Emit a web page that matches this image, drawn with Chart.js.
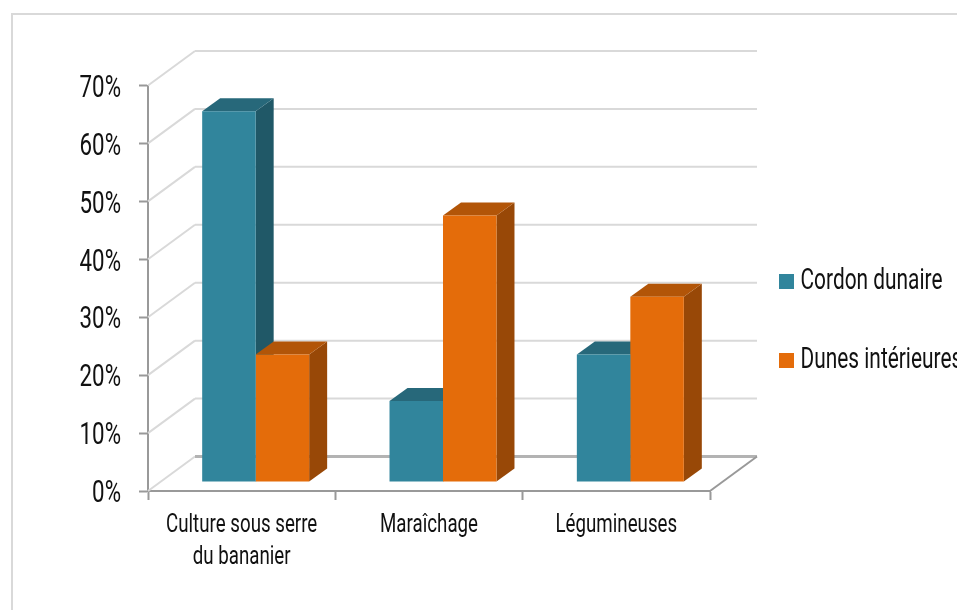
<!DOCTYPE html>
<html lang="fr">
<head>
<meta charset="utf-8">
<title>Cultures</title>
<script src="https://cdn.jsdelivr.net/npm/chart.js@4/dist/chart.umd.min.js"></script>
<style>
  html, body { margin: 0; padding: 0; background: #fff; overflow: hidden; }
  #wrap { width: 957px; height: 610px; }
</style>
</head>
<body>
<div id="wrap"><canvas id="chart"></canvas></div>
<script>
// --- Data ---
const categories = [['Culture sous serre', 'du bananier'], 'Maraîchage', 'Légumineuses'];
const cordonDunaire = [64, 14, 22];
const dunesInterieures = [22, 46, 32];
const seriesNames = ['Cordon dunaire', 'Dunes intérieures'];

// --- Style ---
const FONT = 'Roboto, sans-serif';
const TEXT_SQUEEZE = 0.72;          // the original font is a condensed one, none is installed
const LEGEND_TEXT_NUDGE = -8;       // box-to-text gap is tighter than the default half font size
const faces = [
    { front: '#31859c', side: '#205867', top: '#27687a' },
    { front: '#e46c0a', side: '#984807', top: '#b25508' }
];
const wall = { dx: 47, dy: -34.5 };   // depth of the fake 3D box
const barDepth = { dx: 18, dy: -13 };
const barShift = { x: 14, y: -9 };    // bars stand in the middle of the floor

function line(ctx, x1, y1, x2, y2, color, width) {
    ctx.strokeStyle = color;
    ctx.lineWidth = width;
    ctx.beginPath();
    ctx.moveTo(x1, y1);
    ctx.lineTo(x2, y2);
    ctx.stroke();
}

function poly(ctx, pts, color) {
    ctx.fillStyle = color;
    ctx.beginPath();
    pts.forEach((p, i) => (i ? ctx.lineTo(p[0], p[1]) : ctx.moveTo(p[0], p[1])));
    ctx.closePath();
    ctx.fill();
}

const box3d = {
    id: 'box3d',
    beforeInit(chart) {
        // squeeze every label horizontally around its anchor
        const ctx = chart.ctx;
        const fillText = ctx.fillText.bind(ctx);
        ctx.fillText = (text, x, y) => {
            const align = ctx.textAlign;
            const nudge = align === 'right' || align === 'center' ? 0 : LEGEND_TEXT_NUDGE;
            ctx.save();
            ctx.translate(x + nudge, y);
            ctx.scale(TEXT_SQUEEZE, 1);
            fillText(text, 0, 0);
            ctx.restore();
        };
    },
    afterLayout(chart) {
        // legend sits further right and lower than the layout would put it
        const legend = chart.legend;
        legend.left = 729;
        legend.right = 957;
        legend.top = 217;
        legend.bottom = 610;
    },
    beforeDatasetsDraw(chart) {
        const ctx = chart.ctx;
        const { left, right } = chart.chartArea;
        const y = chart.scales.y;
        ctx.save();
        // frame
        line(ctx, 12, 14, 957, 14, '#d9d9d9', 2);
        line(ctx, 12, 13, 12, 610, '#d9d9d9', 2);
        // walls
        y.ticks.forEach(t => {
            const py = y.getPixelForValue(t.value);
            line(ctx, left, py, left + wall.dx, py + wall.dy, '#d9d9d9', 2);
            if (t.value > 0) line(ctx, left + wall.dx, py + wall.dy, right + wall.dx, py + wall.dy, '#d9d9d9', 2);
        });
        // floor
        const py0 = y.getPixelForValue(0);
        line(ctx, left + wall.dx, py0 + wall.dy, right + wall.dx, py0 + wall.dy, '#b3b3b3', 3);
        line(ctx, right, py0, right + wall.dx, py0 + wall.dy, '#999999', 2);

        // side and top faces go under all the front faces
        ctx.translate(barShift.x, barShift.y);
        const { dx, dy } = barDepth;
        faces.forEach((f, i) => {
            chart.getDatasetMeta(i).data.forEach(bar => {
                const l = bar.x - bar.width / 2;
                const r = bar.x + bar.width / 2;
                poly(ctx, [[r, bar.y], [r + dx, bar.y + dy], [r + dx, bar.base + dy], [r, bar.base]], f.side);
                poly(ctx, [[l, bar.y], [l + dx, bar.y + dy], [r + dx, bar.y + dy], [r, bar.y]], f.top);
            });
        });
        ctx.restore();
    },
    beforeDatasetDraw(chart) {
        chart.ctx.save();
        chart.ctx.translate(barShift.x, barShift.y);
    },
    afterDatasetDraw(chart) {
        chart.ctx.restore();
    }
};

new Chart(document.getElementById('chart'), {
    type: 'bar',
    data: {
        labels: categories,
        datasets: [
            { label: seriesNames[0], data: cordonDunaire, backgroundColor: faces[0].front, clip: false },
            { label: seriesNames[1], data: dunesInterieures, backgroundColor: faces[1].front, clip: false }
        ]
    },
    options: {
        responsive: true,
        maintainAspectRatio: false,
        animation: false,
        layout: { padding: { top: 85.5, left: 0, right: 0, bottom: 0 } },
        datasets: { bar: { barPercentage: 1, categoryPercentage: 0.571 } },
        scales: {
            x: {
                grid: { drawOnChartArea: false, tickLength: 9, tickColor: '#999999', tickWidth: 2 },
                border: { color: '#999999', width: 2 },
                ticks: {
                    color: '#111',
                    maxRotation: 0,
                    autoSkip: false,
                    padding: 10,
                    font: { family: FONT, size: 26, lineHeight: 1.23 }
                },
                afterFit(scale) { scale.height = 119; }
            },
            y: {
                min: 0,
                max: 70,
                grid: { drawOnChartArea: false, tickLength: 9, tickColor: '#999999', tickWidth: 2 },
                border: { color: '#999999', width: 2 },
                ticks: {
                    stepSize: 10,
                    color: '#111',
                    padding: 18,
                    labelOffset: 3.5,
                    font: { family: FONT, size: 31 },
                    callback: v => v + '%'
                },
                afterFit(scale) { scale.width = 148; }
            }
        },
        plugins: {
            tooltip: { enabled: false },
            legend: {
                position: 'right',
                align: 'start',
                maxWidth: 247,
                labels: {
                    boxWidth: 15,
                    boxHeight: 15,
                    padding: 50,
                    color: '#111',
                    font: { family: FONT, size: 29, lineHeight: 1 }
                }
            }
        }
    },
    plugins: [box3d]
});
</script>
</body>
</html>
